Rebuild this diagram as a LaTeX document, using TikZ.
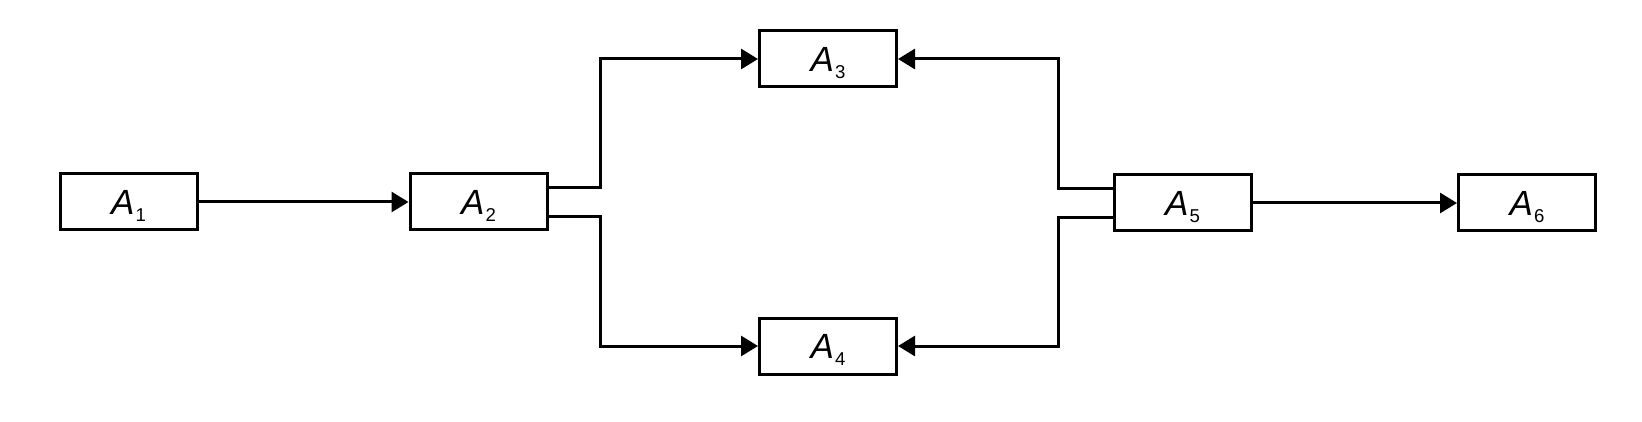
\documentclass[tikz,border=0pt]{standalone}
\usepackage{fontspec}
\setmainfont{Liberation Sans}
\usetikzlibrary{arrows.meta}
\newcommand{\blocklabel}[1]{{\fontsize{17.5}{20}\selectfont\itshape A}\kern0.6pt\smash{\raisebox{-3.8pt}{\fontsize{9.3}{10}\selectfont #1}}}
\tikzset{
  blockbox/.style={draw=black, line width=1.5pt, minimum width=68.5pt, minimum height=28pt, inner sep=0pt, fill=white},
  conn/.style={draw=black, line width=1.5pt},
  arr/.style={conn, -{Triangle[length=8.5pt,width=10pt]}}
}
\begin{document}
\begin{tikzpicture}[x=0.5pt,y=-0.5pt]
\useasboundingbox (0,0) rectangle (1642,422);
\node[blockbox] (A1) at (128.5,202) {\blocklabel{1}};
\node[blockbox] (A2) at (478.5,202) {\blocklabel{2}};
\node[blockbox] (A3) at (828,59) {\blocklabel{3}};
\node[blockbox] (A4) at (828,346) {\blocklabel{4}};
\node[blockbox] (A5) at (1182.5,203) {\blocklabel{5}};
\node[blockbox] (A6) at (1527,203) {\blocklabel{6}};
% junction points
\coordinate (j1) at (600,188);
\coordinate (j2) at (600,217);
\coordinate (j3) at (1058,189);
\coordinate (j4) at (1058,218);
% connectors
\draw[arr] (A1.east) -- (A2.west);
\draw[arr] (A5.east) -- (A6.west);
\draw[arr] (A2.east |- j1) -- (j1) |- (A3.west);
\draw[arr] (A2.east |- j2) -- (j2) |- (A4.west);
\draw[arr] (A5.west |- j3) -- (j3) |- (A3.east);
\draw[arr] (A5.west |- j4) -- (j4) |- (A4.east);
\end{tikzpicture}
\end{document}
